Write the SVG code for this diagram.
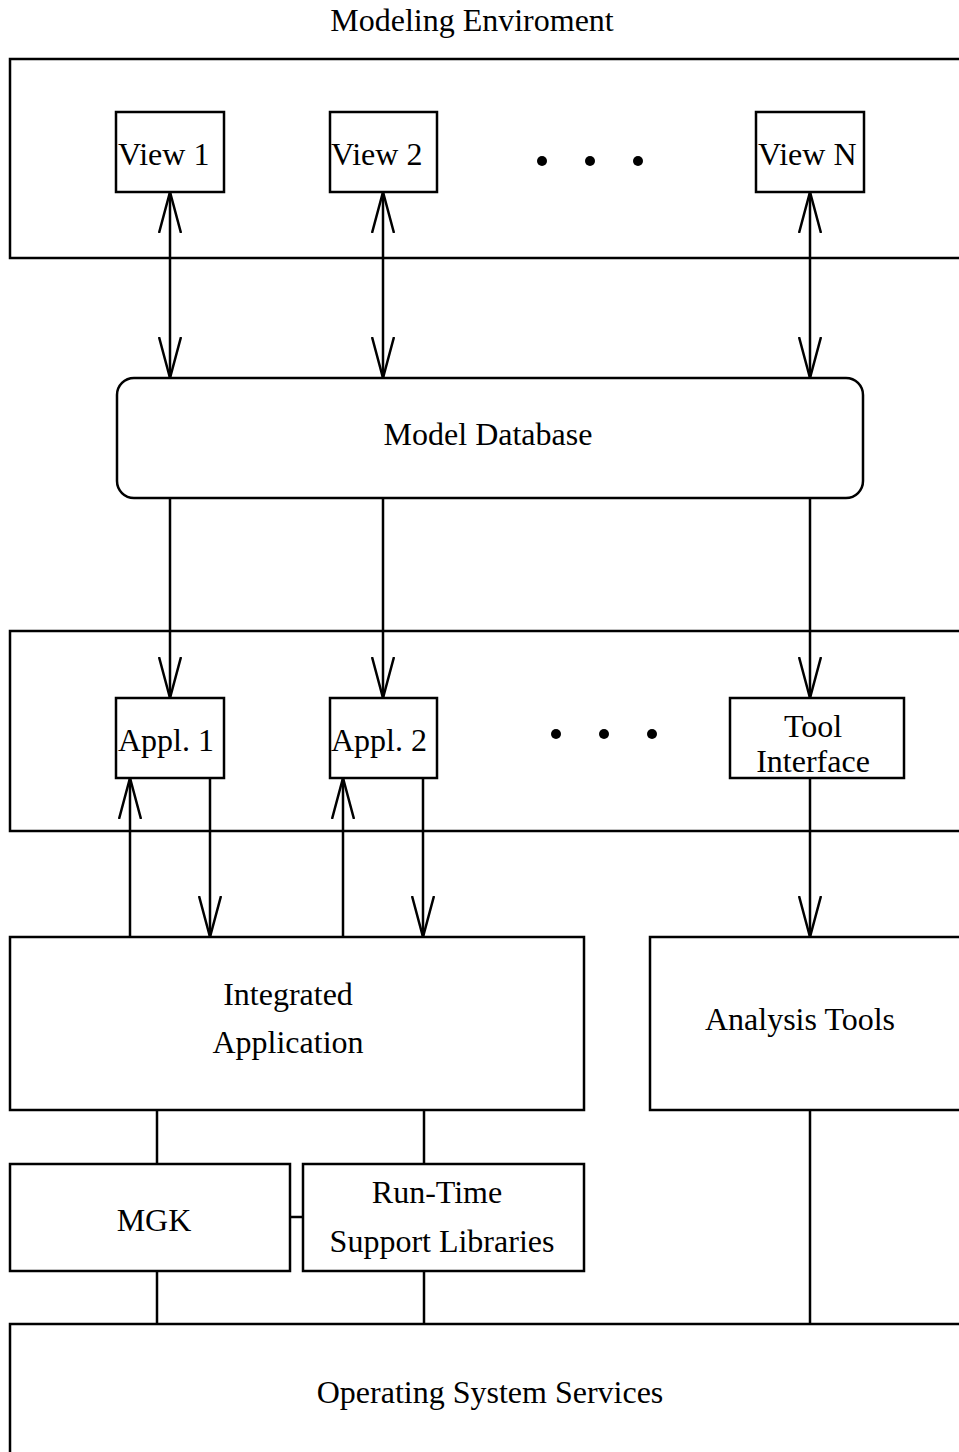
<svg xmlns="http://www.w3.org/2000/svg" width="959" height="1452" viewBox="0 0 959 1452">
<defs>
<style>
.b{fill:none;stroke:#000;stroke-width:2.5}
.c{fill:none;stroke:#000;stroke-width:2.5}
.t{font-family:"Liberation Serif","Times New Roman",serif;font-size:32px;fill:#000}
.m{text-anchor:middle}
</style>
<marker id="ah" viewBox="0 0 42 24" refX="41" refY="12" markerWidth="42" markerHeight="24" markerUnits="userSpaceOnUse" orient="auto-start-reverse">
<path d="M0,1 L41,12 L0,23" fill="none" stroke="#000" stroke-width="2.5"/>
</marker>
</defs>
<rect width="959" height="1452" fill="#fff"/>
<g id="modeling-env">
<text class="t m" x="472" y="31">Modeling Enviroment</text>
<rect class="b" x="10" y="59" width="970" height="199"/>
</g>
<g id="view1"><rect class="b" x="116" y="112" width="108" height="80"/><text class="t" x="118" y="165">View 1</text></g>
<g id="view2"><rect class="b" x="330" y="112" width="107" height="80"/><text class="t" x="331" y="165">View 2</text></g>
<g id="dots-top"><circle cx="542" cy="161" r="5"/><circle cx="590" cy="161" r="5"/><circle cx="638" cy="161" r="5"/></g>
<g id="viewN"><rect class="b" x="756" y="112" width="108" height="80"/><text class="t" x="758" y="165">View N</text></g>
<g id="model-db"><rect class="b" x="117" y="378" width="746" height="120" rx="17" ry="17"/><text class="t m" x="488" y="445">Model Database</text></g>
<g id="app-layer"><rect class="b" x="10" y="631" width="970" height="200"/></g>
<g id="appl1"><rect class="b" x="116" y="698" width="108" height="80"/><text class="t" x="118" y="751">Appl. 1</text></g>
<g id="appl2"><rect class="b" x="330" y="698" width="107" height="80"/><text class="t" x="331" y="751">Appl. 2</text></g>
<g id="dots-mid"><circle cx="556" cy="734" r="5"/><circle cx="604" cy="734" r="5"/><circle cx="652" cy="734" r="5"/></g>
<g id="tool-interface"><rect class="b" x="730" y="698" width="174" height="80"/><text class="t m" x="813" y="737">Tool</text><text class="t m" x="813" y="772">Interface</text></g>
<g id="integrated"><rect class="b" x="10" y="937" width="574" height="173"/><text class="t m" x="288" y="1005">Integrated</text><text class="t m" x="288" y="1053">Application</text></g>
<g id="analysis"><rect class="b" x="650" y="937" width="330" height="173"/><text class="t m" x="800" y="1030">Analysis Tools</text></g>
<g id="mgk"><rect class="b" x="10" y="1164" width="280" height="107"/><text class="t m" x="154" y="1231">MGK</text></g>
<g id="runtime"><rect class="b" x="303" y="1164" width="281" height="107"/><text class="t m" x="437" y="1203">Run-Time</text><text class="t m" x="442" y="1252">Support Libraries</text></g>
<g id="os"><rect class="b" x="10" y="1324" width="970" height="160"/><text class="t m" x="490" y="1403">Operating System Services</text></g>
<g id="connectors">
<line class="c" x1="170" y1="192" x2="170" y2="378" marker-start="url(#ah)" marker-end="url(#ah)"/>
<line class="c" x1="383" y1="192" x2="383" y2="378" marker-start="url(#ah)" marker-end="url(#ah)"/>
<line class="c" x1="810" y1="192" x2="810" y2="378" marker-start="url(#ah)" marker-end="url(#ah)"/>
<line class="c" x1="170" y1="498" x2="170" y2="698" marker-end="url(#ah)"/>
<line class="c" x1="383" y1="498" x2="383" y2="698" marker-end="url(#ah)"/>
<line class="c" x1="810" y1="498" x2="810" y2="698" marker-end="url(#ah)"/>
<line class="c" x1="130" y1="937" x2="130" y2="778" marker-end="url(#ah)"/>
<line class="c" x1="210" y1="778" x2="210" y2="937" marker-end="url(#ah)"/>
<line class="c" x1="343" y1="937" x2="343" y2="778" marker-end="url(#ah)"/>
<line class="c" x1="423" y1="778" x2="423" y2="937" marker-end="url(#ah)"/>
<line class="c" x1="810" y1="778" x2="810" y2="937" marker-end="url(#ah)"/>
<line class="c" x1="157" y1="1110" x2="157" y2="1164"/>
<line class="c" x1="424" y1="1110" x2="424" y2="1164"/>
<line class="c" x1="290" y1="1217" x2="303" y2="1217"/>
<line class="c" x1="157" y1="1271" x2="157" y2="1324"/>
<line class="c" x1="424" y1="1271" x2="424" y2="1324"/>
<line class="c" x1="810" y1="1110" x2="810" y2="1324"/>
</g>
</svg>
